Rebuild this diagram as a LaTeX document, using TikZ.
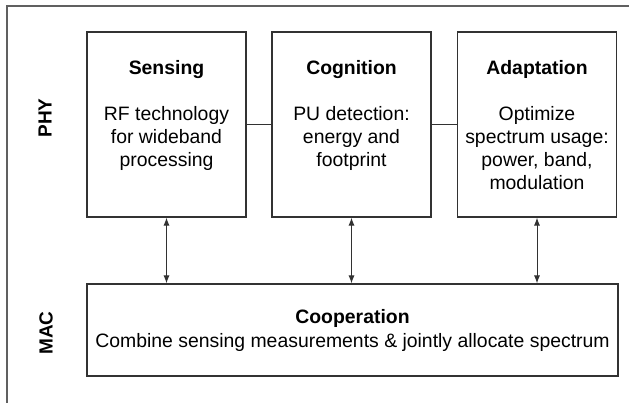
\documentclass[tikz,border=0pt]{standalone}
\usepackage{fontspec}
\setmainfont{Liberation Sans}
\usepackage{xcolor}
\usepackage{tikz}
\usetikzlibrary{arrows, arrows.meta, positioning, calc}
\definecolor{framegray}{RGB}{96, 96, 96}
\definecolor{boxgray}{RGB}{50, 50, 50}

\begin{document}
\begin{tikzpicture}[x=1pt, y=-1pt,
    block/.style={draw=boxgray, line width=1.1pt, minimum width=159pt, minimum height=185pt, inner sep=0pt},
    blocktext/.style={anchor=north, align=center, inner sep=0pt, font=\fontsize{19.4}{23}\selectfont},
    layer/.style={rotate=90, font=\fontsize{19}{23}\selectfont\bfseries},
    link/.style={boxgray, line width=1pt},
    duplex/.style={boxgray, line width=1pt, {Latex[length=8pt,width=6pt]}-{Latex[length=8pt,width=6pt]}}]
    \useasboundingbox (0,0) rectangle (629,402);

    % The Frame (cut at right and bottom)
    \begin{scope}
        \clip (0,0) rectangle (629,402);
        \draw[framegray, line width=1.6pt] (7,6) rectangle (660,440);
    \end{scope}

    % The PHY Blocks
    \node[block] (sensing) at (166.5,124.5) {};
    \node[block] (cognition) at (351.5,124.5) {};
    \node[block] (adaptation) at (537,124.5) {};

    \node[blocktext] (sensing-txt) at (166.5,60) {\textbf{Sensing}\\[23pt]RF technology\\for wideband\\processing};
    \node[blocktext] (cognition-txt) at (351.5,60) {\textbf{Cognition}\\[23pt]PU detection:\\energy and\\footprint};
    \node[blocktext] (adaptation-txt) at (537,60) {\textbf{Adaptation}\\[23pt]Optimize\\spectrum usage:\\power, band,\\modulation};

    % The MAC Block
    \node[draw=boxgray, line width=1.1pt, minimum width=531pt, minimum height=92pt, inner sep=0pt,
          align=center, font=\fontsize{19.4}{24}\selectfont] (cooperation) at (352.5,330)
        {\textbf{Cooperation}\\Combine sensing measurements \& jointly allocate spectrum};

    % Layer Labels
    \node[layer] (phy) at (45,118) {PHY};
    \node[layer] (mac) at (46,333) {MAC};

    % Connectors
    \draw[link] (sensing) -- (cognition);
    \draw[link] (cognition) -- (adaptation);
    \foreach \b in {sensing, cognition, adaptation} {
        \draw[duplex] (\b.south) -- (\b.south |- cooperation.north);
    }
\end{tikzpicture}
\end{document}
